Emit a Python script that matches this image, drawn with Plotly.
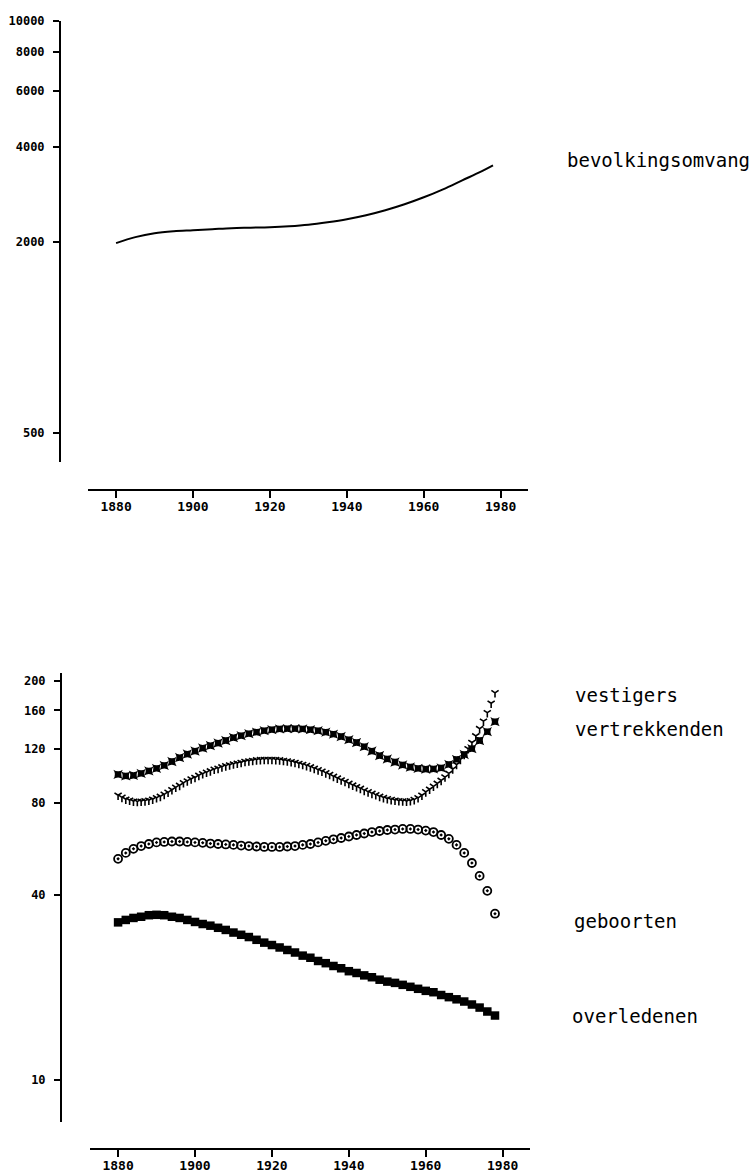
import plotly.graph_objects as go

# ---------------- data ----------------
pop_years = [1880, 1885, 1890, 1895, 1900, 1905, 1910, 1915, 1920, 1925, 1930,
             1935, 1940, 1945, 1950, 1955, 1960, 1965, 1970, 1975, 1978]
bevolkingsomvang = [1984, 2073, 2134, 2165, 2181, 2197, 2213, 2221, 2229, 2245, 2270,
                    2311, 2362, 2431, 2521, 2633, 2770, 2936, 3134, 3345, 3494]

years2 = list(range(1880, 1979, 2))
years1 = list(range(1880, 1979, 1))

vestigers = [99.0, 97.9, 98.3, 99.7, 101.6, 103.5, 105.9, 109.0, 112.3, 115.3,
             117.9, 120.6, 122.9, 125.2, 127.6, 130.5, 132.4, 134.4, 135.9, 137.4,
             138.5, 139.2, 139.5, 139.5, 139.2, 138.5, 137.4, 135.9, 133.9, 131.5,
             128.5, 125.7, 121.9, 117.9, 114.0, 111.1, 108.6, 106.2, 104.6, 103.5,
             103.0, 103.1, 103.9, 106.6, 110.7, 114.9, 120.1, 127.6, 136.4, 147.0]

vertrekkenden = [84.6, 83.3, 82.1, 81.5, 80.9, 80.7, 80.9, 81.1, 81.5, 82.1,
                 83.0, 83.9, 85.2, 86.5, 88.2, 89.8, 91.1, 92.9, 94.2, 95.6,
                 96.7, 98.2, 99.4, 100.5, 101.6, 102.8, 103.5, 104.7, 105.5, 106.2,
                 107.0, 107.6, 108.2, 109.0, 109.4, 109.8, 110.3, 110.5, 110.7, 110.7,
                 110.7, 110.5, 110.3, 109.8, 109.4, 108.8, 108.2, 107.4, 106.6, 105.7,
                 104.7, 103.5, 102.4, 101.3, 100.1, 98.9, 97.5, 96.2, 94.9, 93.8,
                 92.5, 91.3, 90.2, 89.1, 87.8, 86.8, 85.8, 84.9, 83.9, 83.1,
                 82.4, 81.9, 81.5, 81.2, 81.0, 80.9, 81.2, 81.9, 83.0, 84.6,
                 86.8, 88.5, 90.5, 92.5, 94.6, 97.0, 99.7, 103.0, 106.6, 110.7,
                 114.9, 120.0, 125.7, 132.1, 139.5, 147.5, 157.2, 168.8, 182.5]

geboorten = [52.5, 54.9, 56.6, 57.8, 58.7, 59.4, 59.6, 59.8, 59.8, 59.6,
             59.4, 59.2, 58.9, 58.7, 58.5, 58.3, 58.0, 57.8, 57.6, 57.4,
             57.4, 57.4, 57.6, 57.8, 58.3, 58.7, 59.4, 60.1, 60.8, 61.4,
             62.1, 62.8, 63.5, 64.2, 64.7, 65.2, 65.4, 65.7, 65.7, 65.4,
             64.9, 64.2, 62.8, 61.0, 58.3, 54.9, 50.9, 46.2, 41.3, 34.8]

overledenen = [32.6, 33.2, 33.7, 34.0, 34.4, 34.5, 34.4, 34.0, 33.7, 33.2,
               32.7, 32.2, 31.8, 31.3, 30.8, 30.2, 29.7, 29.2, 28.6, 28.0,
               27.5, 27.0, 26.5, 26.0, 25.4, 25.0, 24.4, 24.0, 23.5, 23.1,
               22.6, 22.3, 21.9, 21.6, 21.2, 20.9, 20.7, 20.4, 20.1, 19.8,
               19.5, 19.3, 18.9, 18.6, 18.3, 18.0, 17.6, 17.2, 16.7, 16.2]

x_ticks = [1880, 1900, 1920, 1940, 1960, 1980]
x_ticktext = ["1880", "1900", "1920", "1940", "1960", "1980"]
top_yticks = [500, 2000, 4000, 6000, 8000, 10000]
bot_yticks = [10, 40, 80, 120, 160, 200]

# ---------------- figure ----------------
W, H = 755, 1176
def px(x):
    return x / W
def py(y):
    return 1 - y / H

ytickfont = dict(family="DejaVu Sans Mono", size=12, color="black", weight="bold")
xtickfont = dict(family="DejaVu Sans Mono", size=13, color="black", weight="bold")
labfont = dict(family="DejaVu Sans Mono", size=19, color="black")

fig = go.Figure()

fig.add_trace(go.Scatter(x=pop_years, y=bevolkingsomvang, mode="lines",
                         line=dict(color="black", width=2, shape="spline"),
                         xaxis="x", yaxis="y", showlegend=False))

fig.add_trace(go.Scatter(x=years2, y=vestigers, mode="markers",
                         marker=dict(symbol="star-square", size=8.5, color="black",
                                     line=dict(width=0)),
                         xaxis="x2", yaxis="y2", showlegend=False))
fig.add_trace(go.Scatter(x=years1, y=vertrekkenden, mode="markers",
                         marker=dict(symbol="y-down", size=6, color="black",
                                     line=dict(width=1.6, color="black")),
                         xaxis="x2", yaxis="y2", showlegend=False))
fig.add_trace(go.Scatter(x=years2, y=geboorten, mode="markers",
                         marker=dict(symbol="circle-open-dot", size=8, color="black",
                                     line=dict(width=1.8, color="black")),
                         xaxis="x2", yaxis="y2", showlegend=False))
fig.add_trace(go.Scatter(x=years2, y=overledenen, mode="markers",
                         marker=dict(symbol="square", size=8.5, color="black",
                                     line=dict(width=0)),
                         xaxis="x2", yaxis="y2", showlegend=False))

common_x = dict(showline=True, linecolor="black", linewidth=2, ticks="outside",
                ticklen=7, tickwidth=2, tickcolor="black", showgrid=False,
                zeroline=False, tickvals=x_ticks, ticktext=x_ticktext,
                tickfont=xtickfont, range=[1872.7, 1987.1], anchor="free",
                ticklabelstandoff=-3)
common_y = dict(showline=True, linecolor="black", linewidth=2, ticks="outside",
                ticklen=6, tickwidth=2, tickcolor="black", showgrid=False,
                zeroline=False, type="log", tickfont=ytickfont, anchor="free",
                ticklabelstandoff=6)

fig.update_layout(
    width=W, height=H, autosize=False,
    margin=dict(l=0, r=0, t=0, b=0),
    paper_bgcolor="white", plot_bgcolor="white",
    xaxis=dict(**common_x, domain=[px(88), px(528)], position=py(486)),
    yaxis=dict(**common_y, domain=[py(458), py(14)], position=px(60),
               range=[2.605, 4.0], tickvals=top_yticks,
               ticktext=[str(v) for v in top_yticks]),
    xaxis2=dict(**common_x, domain=[px(90), px(530)], position=py(1149)),
    yaxis2=dict(**common_y, domain=[py(1122), py(670)], position=px(61),
                range=[0.8616, 2.3258], tickvals=bot_yticks,
                ticktext=[str(v) for v in bot_yticks]),
    annotations=[
        dict(text="bevolkingsomvang", x=px(565), y=py(154), xref="paper", yref="paper",
             xanchor="left", yanchor="middle", showarrow=False, font=labfont),
        dict(text="vestigers", x=px(573), y=py(692), xref="paper", yref="paper",
             xanchor="left", yanchor="middle", showarrow=False, font=labfont),
        dict(text="vertrekkenden", x=px(573), y=py(726), xref="paper", yref="paper",
             xanchor="left", yanchor="middle", showarrow=False, font=labfont),
        dict(text="geboorten", x=px(572), y=py(919), xref="paper", yref="paper",
             xanchor="left", yanchor="middle", showarrow=False, font=labfont),
        dict(text="overledenen", x=px(570), y=py(1015), xref="paper", yref="paper",
             xanchor="left", yanchor="middle", showarrow=False, font=labfont),
    ],
)

fig.write_html("out.html", config={"displayModeBar": False},
               post_script="document.body.style.margin='0';document.body.style.overflow='hidden';")
